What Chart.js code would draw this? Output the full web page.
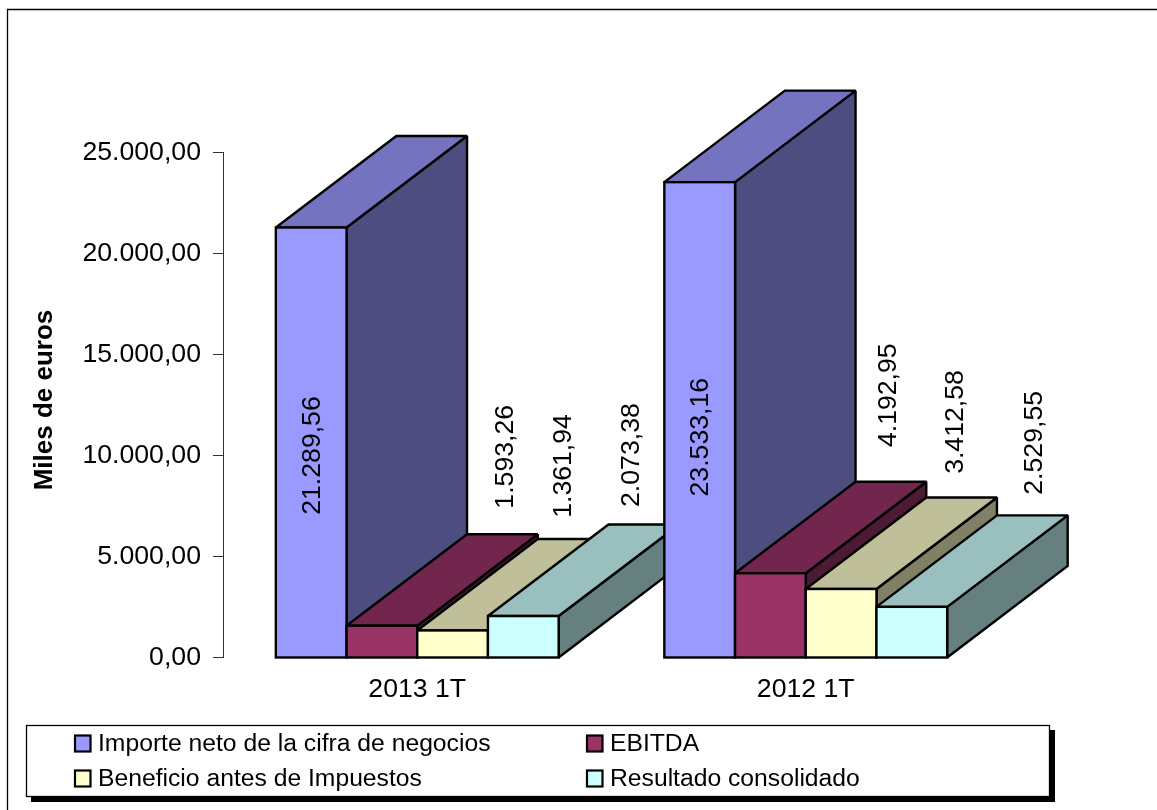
<!DOCTYPE html>
<html><head><meta charset="utf-8">
<style>html,body{margin:0;padding:0;background:#fff;overflow:hidden}canvas{display:block}</style>
<script src="https://cdn.jsdelivr.net/npm/chart.js@4"></script></head>
<body><div style="position:relative;width:1157px;height:810px"><canvas id="c"></canvas></div>
<script>
const categories = ['2013 1T', '2012 1T'];
const seriesNames = ['Importe neto de la cifra de negocios', 'EBITDA', 'Beneficio antes de Impuestos', 'Resultado consolidado'];
const importeNeto = [21289.56, 23533.16];
const ebitda = [1593.26, 4192.95];
const beneficio = [1361.94, 3412.58];
const resultado = [2073.38, 2529.55];
const yTicks = [0, 5000, 10000, 15000, 20000, 25000];
const yTitle = 'Miles de euros';
const FONT = '"Liberation Sans", Arial, sans-serif';
const fmt = v => v.toLocaleString('de-DE', {minimumFractionDigits: 2, maximumFractionDigits: 2});
const colors = [['#9999FF','#7373BF','#4D4D80'],['#993366','#73264D','#4D1A33'],['#FFFFCC','#BFBF99','#808066'],['#CCFFFF','#99BFBF','#668080']];
const DX = 120.5, DY = 91.5;
const seriesValues = [importeNeto, ebitda, beneficio, resultado];
// label offsets from each bar's front-top centre, per series then category
const labelNudges = [[[1, 228],[0.5, 255]], [[124, -169],[118, -178]], [[111, -164.5],[115, -167]], [[108.5, -161],[122.5, -164]]];

const frame3d = {
  id: 'frame3d',
  beforeDraw(chart) {
    const c = chart.ctx; c.save();
    c.strokeStyle = '#000'; c.lineWidth = 1.3;
    c.beginPath(); c.moveTo(7.5, 810); c.lineTo(7.5, 9.5); c.lineTo(1157, 9.5); c.stroke();
    c.restore();
  },
  beforeDatasetsDraw(chart) {
    const c = chart.ctx;
    categories.forEach((_, i) => {
      chart.data.datasets.forEach((ds, d) => {
        const b = chart.getDatasetMeta(d).data[i];
        const l = b.x - b.width / 2, r = b.x + b.width / 2, t = b.y, g = b.base;
        c.save();
        c.strokeStyle = '#000'; c.lineWidth = 2.4; c.lineJoin = 'miter'; c.miterLimit = 2;
        c.fillStyle = colors[d][2];
        c.beginPath(); c.moveTo(r, t); c.lineTo(r + DX, t - DY); c.lineTo(r + DX, g - DY); c.lineTo(r, g); c.closePath(); c.fill(); c.stroke();
        c.fillStyle = colors[d][1];
        c.beginPath(); c.moveTo(l, t); c.lineTo(l + DX, t - DY); c.lineTo(r + DX, t - DY); c.lineTo(r, t); c.closePath(); c.fill(); c.stroke();
        b.draw(c);
        c.strokeRect(l, t, r - l, g - t);
        c.restore();
      });
    });
    return false;
  },
  afterDraw(chart) {
    const c = chart.ctx; c.save();
    c.fillStyle = '#000'; c.textAlign = 'center'; c.textBaseline = 'middle'; c.font = '26.67px ' + FONT;
    chart.data.datasets.forEach((ds, d) => {
      ds.data.forEach((v, i) => {
        const b = chart.getDatasetMeta(d).data[i];
        const [nx, ny] = labelNudges[d][i];
        c.save(); c.translate(b.x + nx, b.y + ny); c.rotate(-Math.PI / 2); c.fillText(fmt(v), 0, 0); c.restore();
      });
    });
    // axis title
    c.save(); c.font = 'bold 26px ' + FONT; c.translate(45, 400); c.rotate(-Math.PI / 2); c.fillText(yTitle, 0, 0); c.restore();
    // legend
    c.fillStyle = '#000'; c.fillRect(31, 796, 1024, 6); c.fillRect(1049, 730, 6, 72);
    c.fillStyle = '#fff'; c.strokeStyle = '#000'; c.lineWidth = 1.3;
    c.fillRect(27, 726, 1022, 70); c.strokeRect(26.5, 725.5, 1023, 71);
    const pos = [[75, 743.5], [587, 743.5], [75, 778.5], [587, 778.5]];
    c.textAlign = 'left'; c.font = '24.7px ' + FONT;
    seriesNames.forEach((n, k) => {
      const [x, y] = pos[k];
      c.fillStyle = colors[k][0]; c.strokeStyle = '#000'; c.lineWidth = 2.2;
      c.fillRect(x, y - 8, 15.5, 16); c.strokeRect(x, y - 8, 15.5, 16);
      c.fillStyle = '#000'; c.fillText(n, x + 23, y + 1);
    });
    c.restore();
  }
};

new Chart(document.getElementById('c'), {
  type: 'bar',
  data: { labels: categories, datasets: seriesNames.map((n, k) => ({
    label: n, data: seriesValues[k], backgroundColor: colors[k][0], borderWidth: 0,
    categoryPercentage: 0.728, barPercentage: 1 })) },
  options: {
    responsive: true, maintainAspectRatio: false, animation: false,
    layout: { padding: { left: 28, top: 152.5, right: 157, bottom: 88 } },
    plugins: { legend: { display: false }, tooltip: { enabled: false } },
    scales: {
      x: { grid: { display: false, drawTicks: false }, border: { display: false },
           ticks: { color: '#000', font: { family: FONT, size: 26.67 }, padding: 16, maxRotation: 0 } },
      y: { min: 0, max: 25000, grid: { drawOnChartArea: false, tickLength: 10, color: '#333' }, border: { color: '#333', width: 1 },
           afterBuildTicks(s) { s.ticks = yTicks.map(v => ({ value: v })); },
           afterFit(s) { s.width = 195; },
           ticks: { color: '#000', font: { family: FONT, size: 26.67 }, padding: 12, callback: v => fmt(v) } }
    }
  },
  plugins: [frame3d]
});
</script></body></html>
